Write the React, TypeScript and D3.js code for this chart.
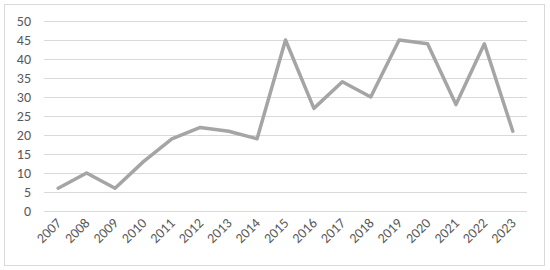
import React from "react";
import * as d3 from "d3";

const years = ["2007","2008","2009","2010","2011","2012","2013","2014","2015","2016","2017","2018","2019","2020","2021","2022","2023"];
const counts = [6, 10, 6, 13, 19, 22, 21, 19, 45, 27, 34, 30, 45, 44, 28, 44, 21];
const yTicks = [0, 5, 10, 15, 20, 25, 30, 35, 40, 45, 50];

export default function App() {
  const W = 550, H = 270;
  const left = 44, right = 527, top = 21, bottom = 211;
  const x = d3.scaleBand<string>().domain(years).range([left, right]);
  const y = d3.scaleLinear().domain([0, 50]).range([bottom, top]);
  const line = d3.line<number>()
    .x((_, i) => (x(years[i]) as number) + x.bandwidth() / 2)
    .y((d) => y(d));
  const font = "Calibri, Carlito, 'Liberation Sans', Arial, sans-serif";
  return (
    <svg width={W} height={H} style={{ position: "absolute", left: 0, top: 0 }}>
      <rect x={0} y={0} width={W} height={H} fill="#fff" />
      <rect x={4.5} y={4.5} width={540} height={261} fill="none" stroke="#d9d9d9" strokeWidth={1} />
      {yTicks.map((t) => (
        <g key={t}>
          <line x1={left} x2={right} y1={Math.round(y(t)) + 0.5} y2={Math.round(y(t)) + 0.5} stroke="#d9d9d9" strokeWidth={1} />
          <text x={31} y={y(t)} dy="0.35em" textAnchor="end" fontSize={14} fill="#595959" fontFamily={font}>{t}</text>
        </g>
      ))}
      <path d={line(counts) || ""} fill="none" stroke="#a5a5a5" strokeWidth={3.5} strokeLinejoin="round" strokeLinecap="round" />
      {years.map((yr) => {
        const cx = (x(yr) as number) + x.bandwidth() / 2;
        return (
          <text key={yr} transform={`translate(${cx + 4},${224}) rotate(-45)`} textAnchor="end" fontSize={14} fill="#595959" fontFamily={font}>{yr}</text>
        );
      })}
    </svg>
  );
}
